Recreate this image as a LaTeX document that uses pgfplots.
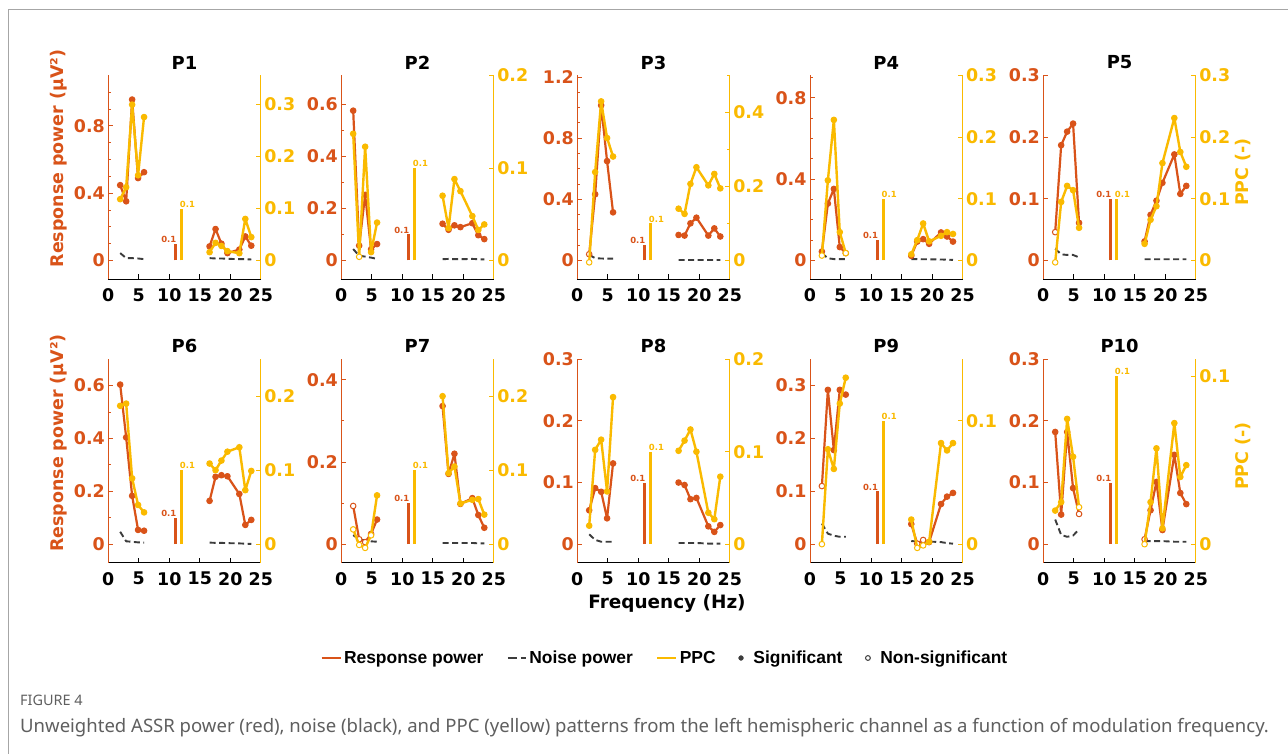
\documentclass[border=0pt]{standalone}
\usepackage{fontspec}
\setmainfont{DejaVu Sans}
\newfontfamily\legfont{Liberation Sans}
\newfontfamily\capfont{Noto Sans}
\usepackage{pgfplots}
\usepackage{pgfplotstable}
\pgfplotsset{compat=1.18}
\definecolor{pr}{RGB}{217,83,25}
\definecolor{py}{RGB}{250,186,0}
\definecolor{ng}{RGB}{60,60,60}
\definecolor{capg}{RGB}{95,95,95}
\newcommand\tfont{\fontsize{17.5}{18}\selectfont\bfseries}

\pgfplotstableread{
x r rs p ps n
1.95 0.448 a 0.118 a 0.044
2.93 0.352 a 0.141 a 0.014
3.91 0.957 a 0.300 a 0.014
4.88 0.490 a 0.164 a 0.012
5.86 0.525 a 0.276 a 0.008
nan nan a nan a nan
16.60 0.084 a 0.016 a 0.014
17.58 0.187 a 0.034 a 0.012
18.55 0.100 a 0.028 a 0.012
19.53 0.044 a 0.018 a 0.010
21.48 0.065 a 0.014 a 0.008
22.46 0.143 a 0.080 a 0.008
23.44 0.088 a 0.045 a 0.006
}\Pone
\pgfplotstableread{
x r rs p ps n
1.95 0.575 a 0.137 a 0.044
2.93 0.057 a 0.004 b 0.018
3.91 0.252 a 0.123 a 0.015
4.88 0.043 a 0.009 a 0.011
5.86 0.063 a 0.041 a 0.006
nan nan a nan a nan
16.60 0.141 a 0.070 a 0.005
17.58 0.118 a 0.035 a 0.006
18.55 0.135 a 0.088 a 0.005
19.53 0.128 a 0.075 a 0.005
21.48 0.143 a 0.048 a 0.006
22.46 0.097 a 0.033 a 0.005
23.44 0.082 a 0.039 a 0.004
}\Ptwo
\pgfplotstableread{
x r rs p ps n
1.95 0.041 b -0.005 b 0.037
2.93 0.433 a 0.239 a 0.015
3.91 1.015 a 0.430 a 0.013
4.88 0.650 a 0.331 a 0.012
5.86 0.315 a 0.281 a 0.012
nan nan a nan a nan
16.60 0.167 a 0.140 a 0.003
17.58 0.163 a 0.126 a 0.003
18.55 0.243 a 0.207 a 0.003
19.53 0.280 a 0.252 a 0.003
21.48 0.163 a 0.203 a 0.003
22.46 0.210 a 0.234 a 0.003
23.44 0.157 a 0.195 a 0.003
}\Pthree
\pgfplotstableread{
x r rs p ps n
1.95 0.044 a 0.008 b 0.036
2.93 0.280 a 0.130 a 0.011
3.91 0.352 a 0.228 a 0.007
4.88 0.066 a 0.046 a 0.007
5.86 0.036 a 0.012 b 0.007
nan nan a nan a nan
16.60 0.023 a 0.010 a 0.007
17.58 0.093 a 0.033 a 0.007
18.55 0.105 a 0.060 a 0.006
19.53 0.082 a 0.031 a 0.006
21.48 0.138 a 0.040 a 0.005
22.46 0.118 a 0.046 a 0.004
23.44 0.093 a 0.043 a 0.003
}\Pfour
\pgfplotstableread{
x r rs p ps n
1.95 0.046 b -0.003 b 0.019
2.93 0.187 a 0.095 a 0.010
3.91 0.209 a 0.121 a 0.009
4.88 0.222 a 0.114 a 0.009
5.86 0.061 a 0.053 a 0.005
nan nan a nan a nan
16.60 0.031 a 0.027 a 0.002
17.58 0.074 a 0.066 a 0.002
18.55 0.097 a 0.088 a 0.002
19.53 0.126 a 0.158 a 0.002
21.48 0.172 a 0.231 a 0.002
22.46 0.108 a 0.176 a 0.002
23.44 0.121 a 0.152 a 0.002
}\Pfive
\pgfplotstableread{
x r rs p ps n
1.95 0.604 a 0.187 a 0.047
2.93 0.404 a 0.190 a 0.011
3.91 0.183 a 0.089 a 0.009
4.88 0.054 a 0.053 a 0.007
5.86 0.051 a 0.043 a 0.006
nan nan a nan a nan
16.60 0.164 a 0.109 a 0.006
17.58 0.255 a 0.100 a 0.005
18.55 0.261 a 0.113 a 0.005
19.53 0.257 a 0.125 a 0.004
21.48 0.190 a 0.131 a 0.003
22.46 0.073 a 0.073 a 0.002
23.44 0.092 a 0.099 a 0.001
}\Psix
\pgfplotstableread{
x r rs p ps n
1.95 0.093 b 0.020 b 0.022
2.93 0.012 b -0.001 b 0.012
3.91 0.005 b -0.005 b 0.009
4.88 0.025 a 0.012 b 0.007
5.86 0.060 a 0.066 a 0.006
nan nan a nan a nan
16.60 0.336 a 0.200 a 0.003
17.58 0.171 a 0.096 a 0.003
18.55 0.220 a 0.105 a 0.003
19.53 0.098 a 0.055 a 0.003
21.48 0.112 a 0.060 a 0.003
22.46 0.071 a 0.061 a 0.002
23.44 0.040 a 0.040 a 0.002
}\Pseven
\pgfplotstableread{
x r rs p ps n
1.95 0.055 a 0.020 a 0.016
2.93 0.091 a 0.102 a 0.007
3.91 0.085 a 0.113 a 0.004
4.88 0.042 a 0.057 a 0.004
5.86 0.131 a 0.159 a 0.004
nan nan a nan a nan
16.60 0.100 a 0.101 a 0.002
17.58 0.096 a 0.112 a 0.002
18.55 0.073 a 0.124 a 0.002
19.53 0.075 a 0.100 a 0.002
21.48 0.029 a 0.034 a 0.001
22.46 0.020 a 0.027 a 0.001
23.44 0.031 a 0.073 a 0.001
}\Peight
\pgfplotstableread{
x r rs p ps n
1.95 0.110 b 0.000 b 0.039
2.93 0.292 a 0.077 a 0.020
3.91 0.178 a 0.061 a 0.016
4.88 0.292 a 0.114 a 0.014
5.86 0.283 a 0.135 a 0.014
nan nan a nan a nan
16.60 0.038 a 0.020 a 0.006
17.58 0.001 b -0.003 b 0.005
18.55 0.008 b -0.001 b 0.005
19.53 0.004 a 0.002 a 0.005
21.48 0.076 a 0.082 a 0.004
22.46 0.090 a 0.076 a 0.002
23.44 0.097 a 0.082 a 0.001
}\Pnine
\pgfplotstableread{
x r rs p ps n
1.95 0.182 a 0.020 a 0.040
2.93 0.048 a 0.025 a 0.015
3.91 0.182 a 0.0745 a 0.012
4.88 0.091 a 0.052 a 0.014
5.86 0.049 b 0.022 b 0.024
nan nan a nan a nan
16.60 0.008 b 0.000 b 0.005
17.58 0.055 a 0.025 a 0.005
18.55 0.101 a 0.057 a 0.005
19.53 0.023 a 0.0094 a 0.005
21.48 0.145 a 0.072 a 0.004
22.46 0.083 a 0.040 a 0.004
23.44 0.065 a 0.047 a 0.004
}\Pten

\pgfplotsset{
  base/.style={scale only axis, width=152.5bp, height=203.5bp, xmin=0, xmax=25,
    anchor=south west, tick align=inside, major tick length=5bp, minor tick length=3bp,
    scaled y ticks=false, unbounded coords=jump,
    /pgf/number format/assume math mode=true,
    /pgf/number format/fixed, /pgf/number format/precision=2,
    tick label style={font=\tfont}},
  leftax/.style={base, axis x line*=bottom, axis y line*=left,
    xtick={0,5,10,15,20,25},
    x axis line style={black, line width=0.9bp},
    y axis line style={pr, line width=0.9bp},
    every y tick/.style={pr, line width=0.9bp},
    every x tick/.style={black, line width=0.9bp},
    every minor tick/.append style={pr, line width=0.9bp},
    yticklabel style={pr}, xticklabel style={black, yshift=-6bp},
    title style={font=\fontsize{18}{18}\selectfont\bfseries, at={(0.5,1)}, anchor=center, yshift=7bp}},
  rightax/.style={base, axis x line=none, axis y line*=right,
    y axis line style={py, line width=0.9bp},
    every y tick/.style={py, line width=0.9bp},
    every minor tick/.append style={py, line width=0.9bp},
    yticklabel style={py}},
  rl/.style={pr, line width=2.2bp, line join=round, scatter, point meta=explicit symbolic,
    scatter/classes={a={mark=*, draw=pr, fill=pr}, b={mark=*, draw=pr, fill=white}},
    mark size=2.8bp, mark options={solid, line width=1bp}},
  yl/.style={py, line width=2.4bp, line join=round, scatter, point meta=explicit symbolic,
    scatter/classes={a={mark=*, draw=py, fill=py}, b={mark=*, draw=py, fill=white}},
    mark size=2.8bp, mark options={solid, line width=1bp}},
  noise/.style={ng, line width=1.9bp, line join=round, dash pattern=on 6bp off 3.5bp, no marks},
}

\newcommand\barlab{\fontsize{8.5}{9}\selectfont\bfseries}
\newcommand\panel[6]{%
  \begin{axis}[leftax, at={(#1bp,#2bp)}, title={#3}, #5]
    \addplot[noise] table[x=x, y=n] {#4};
    \addplot[pr, line width=3.2bp, no marks] coordinates {(11,0) (11,0.1)};
    \node[pr, font=\barlab, anchor=south east, inner sep=1bp] at (axis cs:11.35,0.1) {0.1};
    \addplot[rl] table[x=x, y=r, meta=rs] {#4};
  \end{axis}
  \begin{axis}[rightax, at={(#1bp,#2bp)}, #6]
    \addplot[py, line width=3.2bp, no marks] coordinates {(12,0) (12,0.1)};
    \node[py, font=\barlab, anchor=south west, inner sep=1bp] at (axis cs:11.55,0.1) {0.1};
    \addplot[yl] table[x=x, y=p, meta=ps] {#4};
  \end{axis}}

\begin{document}
\begin{tikzpicture}
\fill[white] (0,0) rectangle (1288bp,754bp);
\path[use as bounding box] (0,0) rectangle (1288bp,754bp);
\draw[black!35, line width=1bp] (8bp,0) -- (8bp,744bp) -- (1288bp,744bp);

\panel{108.3}{475}{P1}{\Pone}{ymin=-0.11, ymax=1.1, ytick={0,0.4,0.8}, minor ytick={0.1,0.2,0.3,0.5,0.6,0.7,0.9,1.0}}{ymin=-0.0356, ymax=0.356, ytick={0,0.1,0.2,0.3}}
\panel{341.3}{475}{P2}{\Ptwo}{ymin=-0.071, ymax=0.71, ytick={0,0.2,0.4,0.6}, minor ytick={0.1,0.3,0.5}}{ymin=-0.02, ymax=0.2, ytick={0,0.1,0.2}}
\panel{577.3}{475}{P3}{\Pthree}{ymin=-0.121, ymax=1.21, ytick={0,0.4,0.8,1.2}, minor ytick={0.1,0.2,0.3,0.5,0.6,0.7,0.9,1.0,1.1}}{ymin=-0.05, ymax=0.5, ytick={0,0.2,0.4}, minor ytick={0.1,0.3,0.5}}
\panel{810}{475}{P4}{\Pfour}{ymin=-0.091, ymax=0.91, ytick={0,0.4,0.8}, minor ytick={0.1,0.2,0.3,0.5,0.6,0.7,0.9}}{ymin=-0.03, ymax=0.3, ytick={0,0.1,0.2,0.3}}
\panel{1043.3}{475}{P5}{\Pfive}{ymin=-0.03, ymax=0.3, ytick={0,0.1,0.2,0.3}}{ymin=-0.03, ymax=0.3, ytick={0,0.1,0.2,0.3}}

\panel{108.3}{191.3}{P6}{\Psix}{ymin=-0.07, ymax=0.7, ytick={0,0.2,0.4,0.6}, minor ytick={0.1,0.3,0.5}}{ymin=-0.025, ymax=0.25, ytick={0,0.1,0.2}}
\panel{341.3}{191.3}{P7}{\Pseven}{ymin=-0.045, ymax=0.45, ytick={0,0.2,0.4}, minor ytick={0.1,0.3}}{ymin=-0.025, ymax=0.25, ytick={0,0.1,0.2}}
\panel{577.3}{191.3}{P8}{\Peight}{ymin=-0.03, ymax=0.3, ytick={0,0.1,0.2,0.3}}{ymin=-0.02, ymax=0.2, ytick={0,0.1,0.2}}
\panel{810}{191.3}{P9}{\Pnine}{ymin=-0.035, ymax=0.35, ytick={0,0.1,0.2,0.3}}{ymin=-0.015, ymax=0.15, ytick={0,0.1}}
\panel{1043.3}{191.3}{P10}{\Pten}{ymin=-0.03, ymax=0.3, ytick={0,0.1,0.2,0.3}}{ymin=-0.011, ymax=0.11, ytick={0,0.1}}

\node[rotate=90, pr, font=\fontsize{17.5}{18}\selectfont\bfseries] at (58.5bp,595.5bp) {Response power (μV²)};
\node[rotate=90, pr, font=\fontsize{17.5}{18}\selectfont\bfseries] at (58.5bp,311bp) {Response power (μV²)};
\node[rotate=90, py, font=\fontsize{17.5}{18}\selectfont\bfseries] at (1243bp,582bp) {PPC (-)};
\node[rotate=90, py, font=\fontsize{17.5}{18}\selectfont\bfseries] at (1243bp,298bp) {PPC (-)};
\node[black, font=\fontsize{18.5}{19}\selectfont\bfseries] at (667bp,151bp) {Frequency (Hz)};

\begin{axis}[hide axis, scale only axis, width=1bp, height=1bp, xmin=0, xmax=1, ymin=0, ymax=1,
  at={(320bp,96bp)}, anchor=south west, legend columns=5,
  legend style={at={(0,0)}, anchor=west, draw=none, fill=none, inner sep=0pt,
    font=\legfont\fontsize{17.5}{18}\selectfont\bfseries,
    nodes={inner sep=2bp},
    /tikz/every even column/.append style={column sep=21bp}}]
  \addlegendimage{legend image code/.code={\draw[pr, line width=2.8bp] (0bp,0bp) -- (19bp,0bp);}}
  \addlegendentry{Response power}
  \addlegendimage{legend image code/.code={\draw[ng, line width=2.8bp, dash pattern=on 9bp off 4bp] (0bp,0bp) -- (18bp,0bp);}}
  \addlegendentry{Noise power}
  \addlegendimage{legend image code/.code={\draw[py, line width=2.8bp] (0bp,0bp) -- (19bp,0bp);}}
  \addlegendentry{PPC}
  \addlegendimage{only marks, mark=*, ng, mark size=2.4bp}
  \addlegendentry{\hspace{8bp}Significant}
  \addlegendimage{only marks, mark=o, ng, mark size=2.4bp, mark options={line width=1bp}}
  \addlegendentry{\hspace{8bp}Non-significant}
\end{axis}

\node[anchor=west, capg, font=\capfont\fontsize{14.5}{15}\selectfont, inner sep=0pt] at (20bp,54bp) {FIGURE 4};
\node[anchor=west, capg, font=\capfont\fontsize{18.6}{19}\selectfont, inner sep=0pt] at (20bp,26bp) {Unweighted ASSR power (red), noise (black), and PPC (yellow) patterns from the left hemispheric channel as a function of modulation frequency.};
\end{tikzpicture}
\end{document}
